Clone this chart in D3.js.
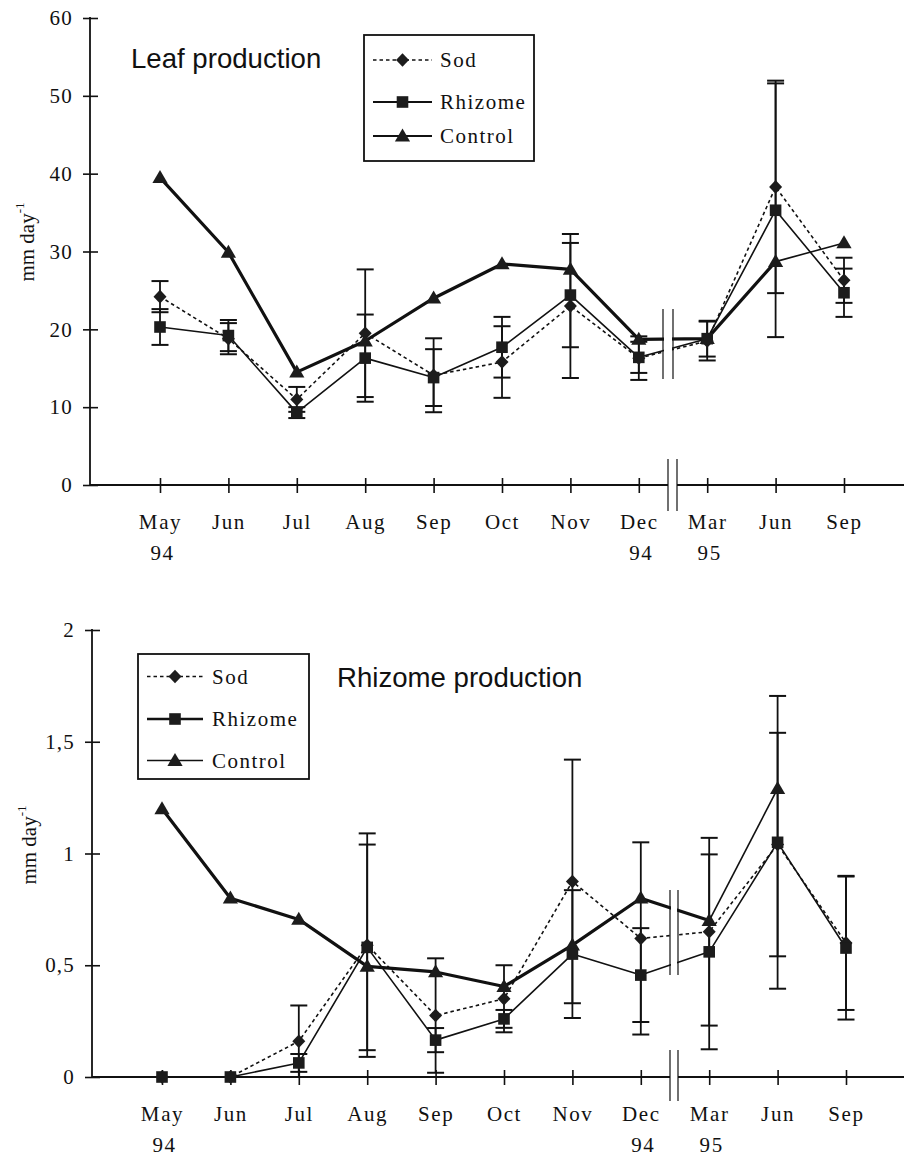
<!DOCTYPE html>
<html><head><meta charset="utf-8">
<script src="https://cdn.jsdelivr.net/npm/d3@7"></script>
<style>body{margin:0;background:#fff} svg{display:block}</style>
</head><body><svg id="c" width="906" height="1159"></svg>
<script>
// ---------- data ----------
const months = ["May","Jun","Jul","Aug","Sep","Oct","Nov","Dec","Mar","Jun","Sep"];
const years  = ["94","","","","","","","94","95","",""];
const seriesNames = ["Sod","Rhizome","Control"];

// Leaf production (mm day-1)
const leafTicks = [0,10,20,30,40,50,60];
const leafTickLabels = ["0","10","20","30","40","50","60"];
const leafSod        = [24.2,18.8,11.0,19.5,14.1,15.8,23.0,16.3,18.5,38.3,26.3];
const leafSodErr     = [2.0, 2.0, 1.6, 8.2, 4.75,4.6, 9.25,2.8, 2.5, 13.65,2.9];
const leafRhizome    = [20.3,19.2,9.3, 16.3,13.8,17.7,24.4,16.4,18.8,35.3,24.7];
const leafRhizomeErr = [2.3, 2.0, 0.7, 5.6, 3.65,3.9, 6.7, 2.0, 2.3, 16.3,3.1];
const leafControl    = [39.5,29.9,14.5,18.5,24.0,28.4,27.7,18.7,18.8,28.7,31.1];

// Rhizome production (mm day-1)
const rhizTicks = [0,0.5,1,1.5,2];
const rhizTickLabels = ["0","0,5","1","1,5","2"];
const rhizSod        = [0,0,0.16,0.59,0.275,0.35,0.875,0.62,0.65,1.04,0.60];
const rhizSodErr     = [0,0,0.16,0.50,0.256,0.15,0.545,0.43,0.42,0.50,0.30];
const rhizRhizome    = [0,0,0.063,0.58,0.165,0.26,0.55,0.456,0.56,1.05,0.577];
const rhizRhizomeErr = [0,0,0.04,0.46,0.054,0.04,0.286,0.21,0.436,0.655,0.32];
const rhizControl    = [1.2,0.8,0.705,0.495,0.47,0.405,0.59,0.80,0.70,1.29,null];

// ---------- drawing ----------
const svg = d3.select("#c");
svg.append("rect").attr("width",906).attr("height",1159).attr("fill","#fff");
const INK = "#111";
const SERIF = "'Liberation Serif','Times New Roman',serif";
const SANS = "'Liberation Sans',Arial,sans-serif";

function markerPath(type){
  if(type==="Sod") return "M0,-6.8L6.5,0L0,6.8L-6.5,0Z";
  if(type==="Rhizome") return "M-5.8,-5.8H5.8V5.8H-5.8Z";
  return "M0,-7.6L7.6,5.4L-7.6,5.4Z";
}
const lineStyle = {
  Sod:{w:1.6,dash:"3.5,3"},
  Rhizome:{w:1.6,dash:null},
  Control:{w:3.2,dash:null}
};

function drawChart(c){
  const g = svg.append("g");
  const x = d3.scaleLinear().domain([0,10]).range(c.xRange);
  const y = d3.scaleLinear().domain(c.yDomain).range(c.yRange);
  const axisY = y(0);

  // y axis
  const ya = g.append("g").attr("transform",`translate(${c.axisX},0)`)
    .call(d3.axisLeft(y).tickValues(c.ticks).tickFormat((d,i)=>c.tickLabels[i])
      .tickSize(7).tickSizeOuter(0).tickPadding(10));
  ya.select(".domain").remove();
  ya.selectAll(".tick line").attr("x1",8).attr("stroke",INK).attr("stroke-width",1.6);
  ya.selectAll(".tick text").attr("font-family",SERIF).attr("font-size",21)
    .attr("letter-spacing",1.2).attr("fill",INK);
  g.append("line").attr("x1",c.axisX).attr("x2",c.axisX)
    .attr("y1",c.yRange[1]-1).attr("y2",axisY).attr("stroke",INK).attr("stroke-width",1.8);

  // x axis
  const xa = g.append("g").attr("transform",`translate(0,${axisY})`)
    .call(d3.axisBottom(x).tickValues(d3.range(months.length)).tickFormat(i=>months[i])
      .tickSize(7).tickSizeOuter(0));
  xa.select(".domain").remove();
  xa.selectAll(".tick line").attr("y1",-7).attr("y2",8).attr("stroke",INK).attr("stroke-width",1.6);
  xa.selectAll(".tick text").attr("y",44).attr("dy",0).attr("font-family",SERIF)
    .attr("font-size",21).attr("letter-spacing",1.6).attr("fill",INK);
  xa.selectAll(".tick").append("text").text(i=>years[i]).attr("y",75).attr("x",2)
    .attr("text-anchor","middle").attr("font-family",SERIF).attr("font-size",21)
    .attr("letter-spacing",1.6).attr("fill",INK);
  g.append("line").attr("x1",c.axisX).attr("x2",904).attr("y1",axisY).attr("y2",axisY)
    .attr("stroke",INK).attr("stroke-width",1.8);
  // axis break
  const ab = c.axisBreak;
  g.append("rect").attr("x",ab.x1).attr("width",ab.x2-ab.x1).attr("y",axisY-4).attr("height",8).attr("fill","#fff");
  [ab.x1,ab.x2].forEach(xx=>g.append("line").attr("x1",xx).attr("x2",xx)
    .attr("y1",ab.y1).attr("y2",ab.y2).attr("stroke",INK).attr("stroke-width",1.2));

  // y label
  const yl = g.append("text").attr("transform",`translate(${c.ylab[0]},${c.ylab[1]}) rotate(-90)`)
    .attr("text-anchor","middle").attr("dominant-baseline","central")
    .attr("font-family",SERIF).attr("font-size",21).attr("fill",INK);
  yl.append("tspan").text("mm day");
  yl.append("tspan").text("-1").attr("font-size",13).attr("dy",-8);

  // title
  g.append("text").attr("x",c.title[0]).attr("y",c.title[1]).text(c.titleText)
    .attr("font-family",SANS).attr("font-size",27.6).attr("fill",INK);

  const series = {Sod:c.sod, Rhizome:c.rhizome, Control:c.control};
  const errs = {Sod:c.sodErr, Rhizome:c.rhizomeErr};
  const idx = d3.range(months.length);
  const line = d3.line().defined(i=>series.cur[i]!=null).x(i=>x(i)).y(i=>y(series.cur[i]));

  // lines
  ["Sod","Rhizome"].forEach(s=>{
    series.cur = series[s];
    g.append("path").attr("d",line(idx)).attr("fill","none").attr("stroke",INK)
      .attr("stroke-width",lineStyle[s].w).attr("stroke-dasharray",lineStyle[s].dash)
      .attr("stroke-linejoin","round");
  });
  series.cur = series.Control;
  g.append("path").attr("d",line(idx.filter(i=>i<=c.thinFrom))).attr("fill","none")
    .attr("stroke",INK).attr("stroke-width",lineStyle.Control.w).attr("stroke-linejoin","round");
  g.append("path").attr("d",line(idx.filter(i=>i>=c.thinFrom))).attr("fill","none")
    .attr("stroke",INK).attr("stroke-width",1.6).attr("stroke-linejoin","round");

  // data break
  const db = c.dataBreak;
  g.append("rect").attr("x",db.x1+1).attr("width",db.x2-db.x1-2).attr("y",db.y1).attr("height",db.y2-db.y1).attr("fill","#fff");
  [db.x1,db.x2].forEach(xx=>g.append("line").attr("x1",xx).attr("x2",xx)
    .attr("y1",db.y1).attr("y2",db.y2).attr("stroke",INK).attr("stroke-width",1.2));

  // error bars
  ["Sod","Rhizome"].forEach(s=>{
    const v = series[s], e = errs[s];
    idx.forEach(i=>{
      if(v[i]==null || !e[i]) return;
      const lo = y(Math.max(0,v[i]-e[i])), hi = y(v[i]+e[i]), xx = x(i);
      g.append("line").attr("x1",xx).attr("x2",xx).attr("y1",lo).attr("y2",hi)
        .attr("stroke",INK).attr("stroke-width",1.8);
      [lo,hi].forEach(yy=>g.append("line").attr("x1",xx-8.5).attr("x2",xx+8.5)
        .attr("y1",yy).attr("y2",yy).attr("stroke",INK).attr("stroke-width",2));
    });
  });

  // markers
  ["Control","Sod","Rhizome"].forEach(s=>{
    const v = series[s];
    g.append("g").selectAll("path").data(idx.filter(i=>v[i]!=null)).join("path")
      .attr("d",markerPath(s)).attr("transform",i=>`translate(${x(i)},${y(v[i])})`)
      .attr("fill","#1c1c1c");
  });

  // legend
  const L = c.legend;
  g.append("rect").attr("x",L.x).attr("y",L.y).attr("width",L.w).attr("height",L.h)
    .attr("fill","#fff").attr("stroke",INK).attr("stroke-width",1.8);
  seriesNames.forEach((s,k)=>{
    const ry = L.rows[k];
    g.append("line").attr("x1",L.lx1).attr("x2",L.lx2).attr("y1",ry).attr("y2",ry)
      .attr("stroke",INK).attr("stroke-width",L.lw[k]).attr("stroke-dasharray",lineStyle[s].dash);
    g.append("path").attr("d",markerPath(s)).attr("transform",`translate(${(L.lx1+L.lx2)/2},${ry})`)
      .attr("fill","#1c1c1c");
    g.append("text").attr("x",L.tx).attr("y",ry).attr("dy","0.35em").text(s)
      .attr("font-family",SERIF).attr("font-size",21).attr("letter-spacing",1.5).attr("fill",INK);
  });
}

drawChart({
  xRange:[160,844], yDomain:[0,60], yRange:[485,18], axisX:90,
  ticks:leafTicks, tickLabels:leafTickLabels,
  sod:leafSod, sodErr:leafSodErr, rhizome:leafRhizome, rhizomeErr:leafRhizomeErr, control:leafControl,
  thinFrom:9,
  axisBreak:{x1:668,x2:677,y1:459,y2:511},
  dataBreak:{x1:663,x2:673,y1:309,y2:379},
  ylab:[27,242], title:[131,68], titleText:"Leaf production",
  legend:{x:364,y:35,w:170,h:126,rows:[60,102,136],lx1:373,lx2:432,tx:440,lw:[1.6,2.2,2.2]}
});
drawChart({
  xRange:[162,846], yDomain:[0,2], yRange:[1077,630], axisX:92,
  ticks:rhizTicks, tickLabels:rhizTickLabels,
  sod:rhizSod, sodErr:rhizSodErr, rhizome:rhizRhizome, rhizomeErr:rhizRhizomeErr, control:rhizControl,
  thinFrom:8,
  axisBreak:{x1:670,x2:678,y1:1050,y2:1101},
  dataBreak:{x1:670,x2:678,y1:890,y2:975},
  ylab:[29,845], title:[337,687], titleText:"Rhizome production",
  legend:{x:138,y:654,w:171,h:125,rows:[676.5,719,760.5],lx1:147,lx2:203,tx:212,lw:[1.6,2.6,1.4]}
});
</script>
</body></html>
